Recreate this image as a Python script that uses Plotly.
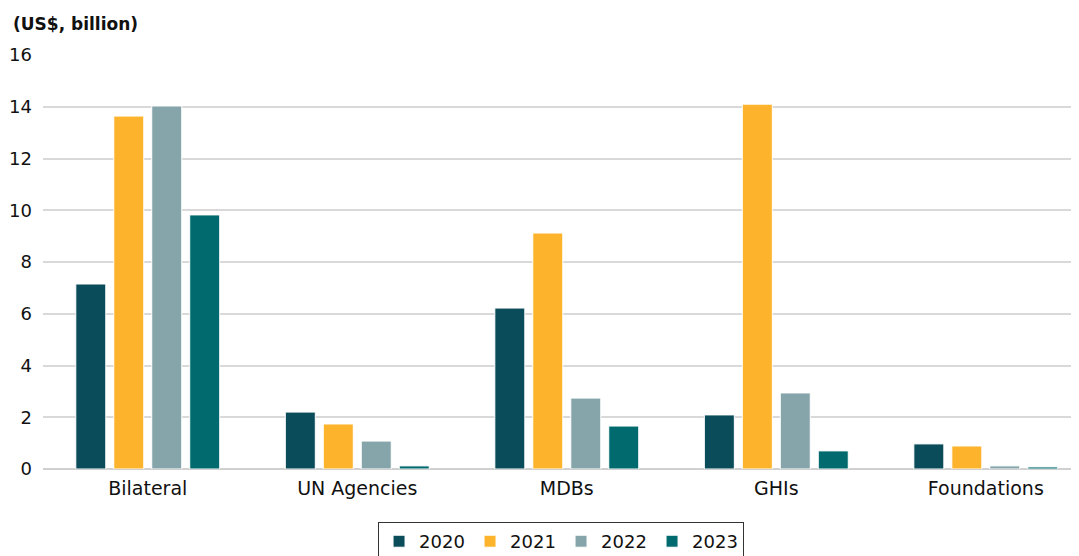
import plotly.graph_objects as go

categories = ["Bilateral", "UN Agencies", "MDBs", "GHIs", "Foundations"]
years = ["2020", "2021", "2022", "2023"]
v2020 = [7.15, 2.20, 6.22, 2.09, 0.97]
v2021 = [13.64, 1.74, 9.12, 14.10, 0.89]
v2022 = [14.03, 1.08, 2.74, 2.94, 0.12]
v2023 = [9.82, 0.12, 1.66, 0.70, 0.08]
colors = ["#0B4C5A", "#FDB32B", "#86A5AB", "#006A6E"]
y_ticks = [0, 2, 4, 6, 8, 10, 12, 14, 16]

FONT = "DejaVu Sans"
fig = go.Figure()
for name, vals, col in zip(years, [v2020, v2021, v2022, v2023], colors):
    fig.add_trace(go.Bar(
        x=categories, y=vals, name=name,
        marker=dict(color=col, line=dict(color="white", width=1)),
    ))

# page body has an 8px margin, so the figure is offset to compensate
fig.update_layout(
    width=1079, height=548,
    margin=dict(l=35, r=0, t=47, b=87),
    paper_bgcolor="white", plot_bgcolor="white",
    barmode="group", bargap=0.275, bargroupgap=0.21,
    font=dict(family=FONT, size=18, color="#111111"),
    showlegend=True,
    legend=dict(
        orientation="h", x=0.4962, xanchor="center",
        yref="container", y=0.062, yanchor="top",
        bordercolor="#333333", borderwidth=1,
        font=dict(size=18), itemwidth=30, traceorder="normal",
        entrywidth=46,
    ),
    xaxis=dict(
        range=[-0.5, 4.483], showgrid=False, ticks="", showline=False,
        tickfont=dict(size=19), automargin=False, ticklabelstandoff=6,
    ),
    yaxis=dict(
        range=[0, 16], tickvals=y_ticks, showgrid=True,
        gridcolor="#D9D9D9", gridwidth=2, zeroline=True,
        zerolinecolor="#D0D0D0", zerolinewidth=2, ticks="",
        tickfont=dict(size=18), ticklabelstandoff=10, automargin=False,
    ),
)
fig.add_annotation(
    text="<b>(US$, billion)</b>", xref="paper", yref="paper",
    x=-0.0305, y=1.0, xanchor="left", yanchor="bottom", yshift=19,
    showarrow=False, font=dict(size=17, family=FONT, color="#111111"),
)
fig.write_html("out.html")
